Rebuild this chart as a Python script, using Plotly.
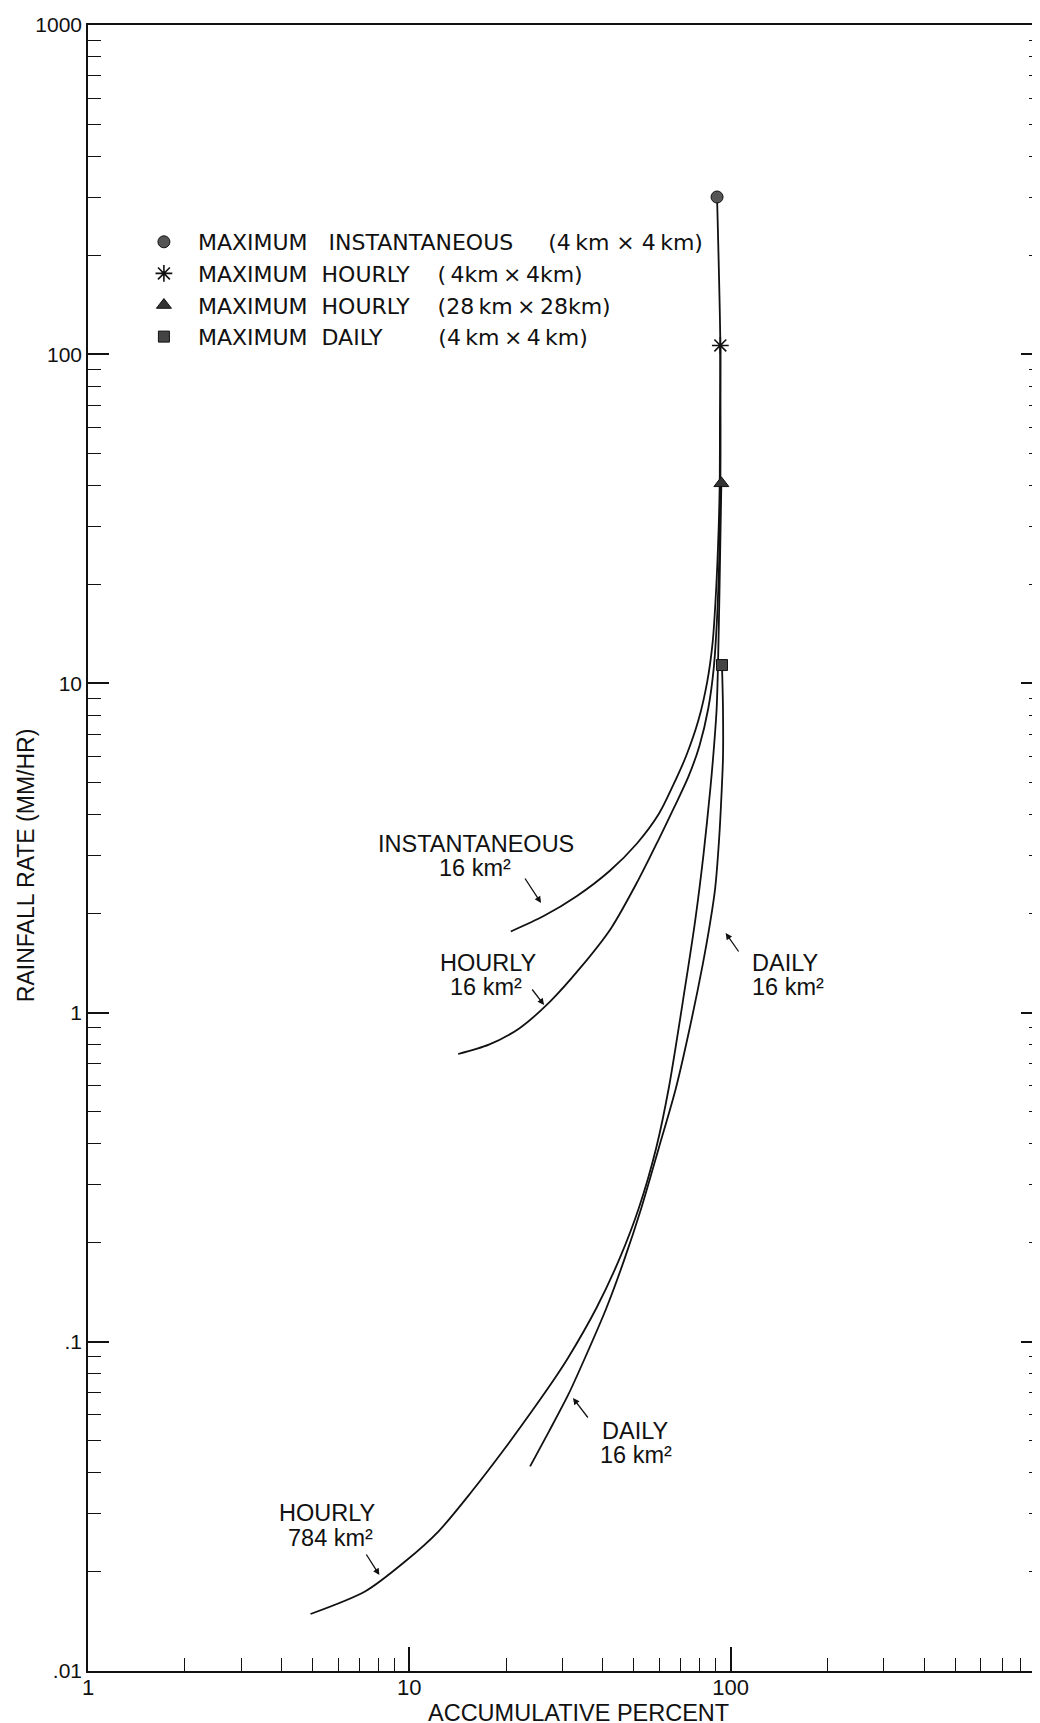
import plotly.graph_objects as go

# ---------------- data ----------------
# Instantaneous, 16 km^2  (last point = maximum instantaneous, 4km x 4km)
inst_x = [20.69, 26.19, 33.16, 42.00, 51.10, 59.80, 66.24, 72.79, 79.36, 84.53, 87.90, 90.01, 91.80, 92.5, 92.6, 92.87, 90.71]
inst_y = [1.764, 1.965, 2.257, 2.693, 3.264, 4.017, 4.906, 6.039, 7.724, 10.11, 13.33, 18.85, 29.89, 41.30, 60.67, 106.3, 300.3]

# Hourly, 16 km^2  (last point = maximum hourly, 4km x 4km)
hr16_x = [14.19, 17.68, 22.03, 27.46, 34.09, 42.46, 51.43, 59.33, 66.76, 73.94, 79.98, 85.20, 88.62, 90.71, 92.15, 92.87, 93.02, 92.87]
hr16_y = [0.7486, 0.799, 0.897, 1.082, 1.369, 1.805, 2.513, 3.314, 4.206, 5.217, 6.471, 8.404, 11.17, 15.79, 24.11, 38.23, 60.67, 106.3]

# Hourly, 784 km^2  (last point = maximum hourly, 28km x 28km)
hr784_x = [4.926, 7.301, 9.719, 12.33, 15.66, 19.87, 24.05, 28.40, 31.17, 38.22, 45.21, 51.80, 58.65, 64.19, 72.07, 77.50, 82.28, 86.50, 88.17, 90.47, 92.11, 93.56]
hr784_y = [0.01490, 0.01747, 0.02154, 0.02657, 0.03515, 0.04757, 0.06150, 0.07762, 0.08929, 0.1267, 0.1798, 0.2549, 0.3879, 0.5902, 1.188, 1.894, 3.010, 4.812, 5.934, 8.418, 16.94, 40.53]

# Daily, 16 km^2  (last point = maximum daily, 4km x 4km)
daily_x = [23.76, 27.21, 31.23, 35.20, 41.06, 46.87, 52.73, 59.76, 67.57, 75.40, 81.85, 86.50, 89.51, 92.11, 93.85, 94.65, 94.65, 93.98]
daily_y = [0.04184, 0.05346, 0.06908, 0.08929, 0.1267, 0.1798, 0.2549, 0.3879, 0.5902, 0.9430, 1.398, 1.898, 2.390, 3.391, 4.812, 5.934, 8.418, 11.37]

NB = "\u00a0"
TH = "\u2009"
legend_names = [
    "MAXIMUM" + NB * 3 + "INSTANTANEOUS" + NB * 5 + "(4" + TH + "km" + NB + "×" + NB + "4" + TH + "km)",
    "MAXIMUM" + NB * 2 + "HOURLY" + NB * 4 + "(" + TH + "4km" + TH + "×" + TH + "4km)",
    "MAXIMUM" + NB * 2 + "HOURLY" + NB * 4 + "(28" + TH + "km" + TH + "×" + TH + "28km)",
    "MAXIMUM" + NB * 2 + "DAILY" + NB * 8 + "(4" + TH + "km" + TH + "×" + TH + "4" + TH + "km)",
]

x_tickvals = [1, 10, 100]
x_ticktext = ["1", "10", "100"]
x_minor = [2, 3, 4, 5, 6, 7, 8, 9, 20, 30, 40, 50, 60, 70, 80, 90,
           200, 300, 400, 500, 600, 700, 800, 900]
y_tickvals = [0.01, 0.1, 1, 10, 100, 1000]
y_ticktext = [".01", ".1", "1", "10", "100", "1000"]
y_minor = [0.02, 0.03, 0.04, 0.05, 0.06, 0.07, 0.08, 0.09,
           0.2, 0.3, 0.4, 0.5, 0.6, 0.7, 0.8, 0.9,
           2, 3, 4, 5, 6, 7, 8, 9,
           20, 30, 40, 50, 60, 70, 80, 90,
           200, 300, 400, 500, 600, 700, 800, 900]

# ---------------- layout geometry ----------------
W, H = 1040, 1723
L, R, T, B = 80, 4, 17, 60
PW = W - L - R
PH = H - T - B
XDEC = 322.0
FONT = "Liberation Sans, Arial, Helvetica, sans-serif"
LFONT = "DejaVu Sans, Verdana, sans-serif"
INK = "#111111"


def P(X, Y):
    """reference-pixel position -> paper coordinates"""
    return (X - 82) / PW, (1663 - Y) / PH


fig = go.Figure()

line_style = dict(color=INK, width=1.8, shape="spline", smoothing=0.8)
for xs, ys in [(inst_x, inst_y), (hr16_x, hr16_y), (hr784_x, hr784_y), (daily_x, daily_y)]:
    fig.add_trace(go.Scatter(x=xs, y=ys, mode="lines", line=line_style,
                             showlegend=False, hoverinfo="skip"))

markers = [
    (inst_x, inst_y, dict(symbol="circle", size=12, color="#555555", line=dict(color=INK, width=1))),
    (hr16_x, hr16_y, dict(symbol="asterisk-open", size=14, color=INK, line=dict(color=INK, width=1.6))),
    (hr784_x, hr784_y, dict(symbol="triangle-up", size=13, color="#333333", line=dict(color=INK, width=1))),
    (daily_x, daily_y, dict(symbol="square", size=11, color="#444444", line=dict(color=INK, width=1))),
]
for (xs, ys, mk), name in zip(markers, legend_names):
    fig.add_trace(go.Scatter(x=[xs[-1]], y=[ys[-1]], mode="markers", marker=mk,
                             name=name, showlegend=True, hoverinfo="skip"))

# curve labels
labels = [
    ("INSTANTANEOUS", 471, 836), ("16 km²", 470, 860),
    ("HOURLY", 483, 955), ("16 km²", 481, 979),
    ("DAILY", 781, 955), ("16 km²", 783, 979),
    ("DAILY", 631, 1423), ("16 km²", 631, 1447),
    ("HOURLY", 322, 1505), ("784 km²", 325, 1530),
]
annotations = []
for text, X, Y in labels:
    xp, yp = P(X, Y)
    annotations.append(dict(text=text, x=xp, y=yp, xref="paper", yref="paper",
                            xanchor="center", yanchor="middle", showarrow=False,
                            font=dict(family=FONT, size=23.5, color=INK)))

# pointer arrows: (tip, tail)
arrows = [((536, 895), (519, 869)), ((539, 997), (526, 980)), ((721, 925), (735, 945)),
          ((568, 1390), (584, 1411)), ((374, 1567), (360, 1545))]
for (tx, ty), (sx, sy) in arrows:
    xp, yp = P(tx, ty)
    annotations.append(dict(text="", x=xp, y=yp, xref="paper", yref="paper",
                            ax=sx - tx, ay=sy - ty, showarrow=True,
                            arrowhead=2, arrowsize=1.0, arrowwidth=1.3, arrowcolor=INK,
                            standoff=0, startstandoff=0))

# axis titles
xp, yp = P(574, 1705)
annotations.append(dict(text="ACCUMULATIVE PERCENT", x=xp, y=yp, xref="paper", yref="paper",
                        xanchor="center", yanchor="middle", showarrow=False,
                        font=dict(family=FONT, size=23.5, color=INK)))
xp, yp = P(20, 858)
annotations.append(dict(text="RAINFALL RATE (MM/HR)", x=xp, y=yp, xref="paper", yref="paper",
                        xanchor="center", yanchor="middle", showarrow=False, textangle=-90,
                        font=dict(family=FONT, size=23, color=INK)))

lx, ly = P(124, 213)
fig.update_layout(
    width=W, height=H,
    margin=dict(l=L, r=R, t=T, b=B, pad=0),
    paper_bgcolor="white", plot_bgcolor="white",
    showlegend=True,
    legend=dict(x=lx, y=ly, xanchor="left", yanchor="top",
                font=dict(family=LFONT, size=22, color=INK),
                bgcolor="rgba(0,0,0,0)", borderwidth=0, itemsizing="trace",
                itemwidth=58),
    annotations=annotations,
    xaxis=dict(type="log", range=[0, PW / XDEC], tickmode="array",
               tickvals=x_tickvals, ticktext=x_ticktext,
               ticks="inside", ticklen=24, tickwidth=1.5, tickcolor=INK,
               showline=True, linecolor=INK, linewidth=1.6, mirror=True,
               showgrid=False, zeroline=False, ticklabelstandoff=-4,
               tickfont=dict(family=FONT, size=22, color=INK),
               minor=dict(tickmode="array", tickvals=x_minor, ticks="inside",
                          ticklen=13, tickwidth=1.2, tickcolor=INK, showgrid=False)),
    yaxis=dict(type="log", range=[-2, 3], tickmode="array",
               tickvals=y_tickvals, ticktext=y_ticktext,
               ticks="inside", ticklen=21, tickwidth=1.5, tickcolor=INK,
               showline=True, linecolor=INK, linewidth=1.6, mirror="ticks",
               showgrid=False, zeroline=False,
               tickfont=dict(family=FONT, size=21, color=INK),
               minor=dict(tickmode="array", tickvals=y_minor, ticks="inside",
                          ticklen=13, tickwidth=1.2, tickcolor=INK, showgrid=False)),
)

fig.write_html("out.html")
